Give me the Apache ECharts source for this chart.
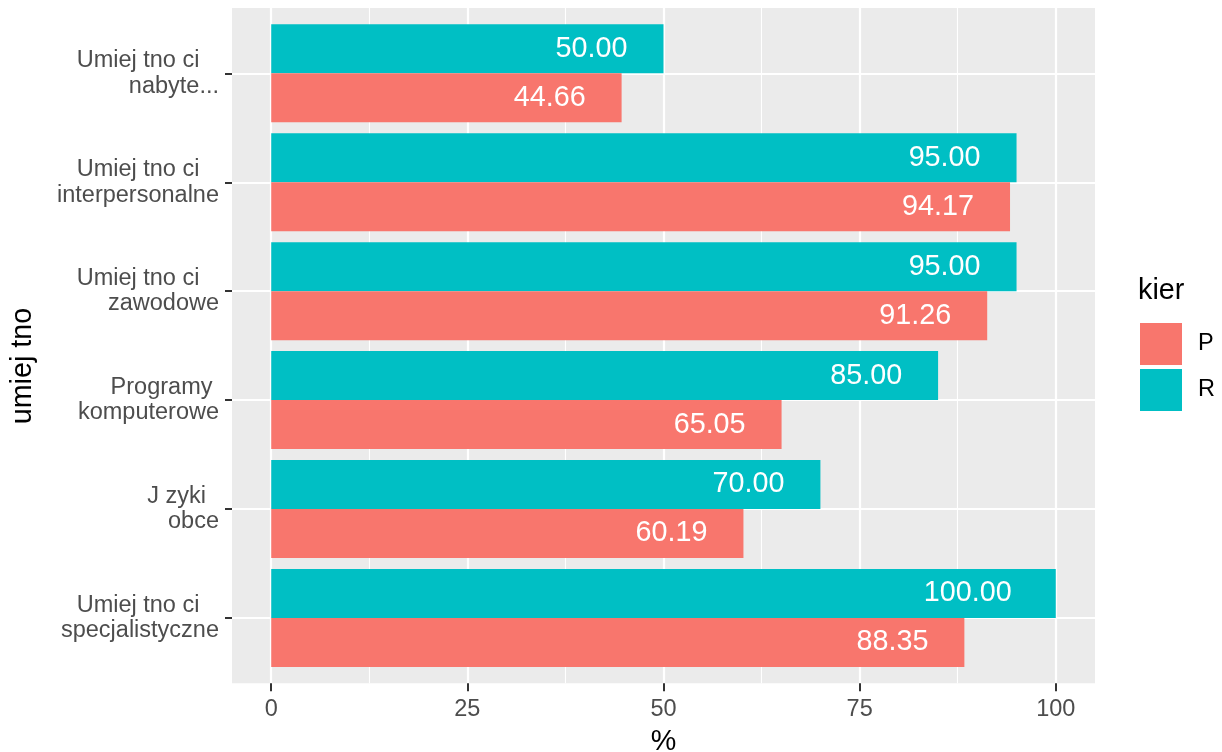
<!DOCTYPE html>
<html>
<head>
<meta charset="utf-8">
<script src="https://cdn.jsdelivr.net/npm/echarts@6/dist/echarts.min.js"></script>
<style>
  html, body { margin: 0; padding: 0; background: #fff; }
  #main { width: 1222px; height: 752px; }
</style>
</head>
<body>
<div id="main"></div>
<script>
// categories listed bottom -> top (echarts puts the first one at the bottom)
var categories = [
    'Umiej tno ci   \nspecjalistyczne',
    'J zyki  \nobce',
    'Programy \nkomputerowe',
    'Umiej tno ci   \nzawodowe',
    'Umiej tno ci   \ninterpersonalne',
    'Umiej tno ci   \nnabyte...'
];
var valuesP = [88.35, 60.19, 65.05, 91.26, 94.17, 44.66];
var valuesR = [100.00, 70.00, 85.00, 95.00, 95.00, 50.00];
var xTicks = [0, 25, 50, 75, 100];
var xMinor = [12.5, 37.5, 62.5, 87.5];
var seriesNames = ['P', 'R'];

var FONT = '"Liberation Sans", Arial, Helvetica, sans-serif';
var colP = '#F8766D', colR = '#00BFC4';
var labelSize = 28.75;

// ggplot hjust = 1.5: text centre sits one text width left of bar end
var ctx = document.createElement('canvas').getContext('2d');
ctx.font = labelSize + 'px ' + FONT;
var makeData = function(vals){
    return vals.map(function(v){
        var t = v.toFixed(2);
        return {value: v, label: {distance: ctx.measureText(t).width / 2}};
    });
};
var yIdx = categories.map(function(c, i){ return i; });

var barLabel = {
    show: true, position: 'insideRight', color: '#fff', fontSize: labelSize,
    fontFamily: FONT,
    formatter: function(p){ return p.value.toFixed(2); }
};

var myChart = echarts.init(document.getElementById('main'));
option = {
    animation: false,
    textStyle: {fontFamily: FONT},
    grid: [
        {left: 232, top: 8, width: 863, height: 675.3, show: true,
         backgroundColor: '#EBEBEB', borderWidth: 0,
         outerBoundsMode: 'none', containLabel: false},
        {left: 232, top: 18.9, width: 863, height: 653.5,
         outerBoundsMode: 'none', containLabel: false}
    ],
    legend: {
        data: seriesNames,
        orient: 'vertical',
        left: 1140, top: 323, padding: 0,
        itemWidth: 42, itemHeight: 42, itemGap: 4,
        icon: 'rect',
        textStyle: {fontSize: 23.5, color: '#000', fontFamily: FONT, padding: [0, 0, 0, 11]}
    },
    graphic: [
        {type: 'text', left: 1138, top: 277,
         style: {text: 'kier', fill: '#000', font: '28.75px ' + FONT}},
        {type: 'text', x: 23, y: 366, rotation: Math.PI / 2,
         style: {text: 'umiej tno', fill: '#000', font: '28.75px ' + FONT,
                 align: 'center', verticalAlign: 'middle'}}
    ],
    xAxis: [
        {
            gridIndex: 0, type: 'value', min: -5, max: 105, position: 'bottom',
            name: '%', nameLocation: 'middle', nameGap: 44,
            nameTextStyle: {fontSize: 28.75, color: '#000', fontFamily: FONT},
            axisLine: {show: true, onZero: false, lineStyle: {color: 'rgba(0,0,0,0)'}},
            axisTick: {show: true, inside: false, length: 8, customValues: xTicks,
                       lineStyle: {color: '#333333', width: 2}},
            axisLabel: {customValues: xTicks, fontSize: 23.5, color: '#4D4D4D', margin: 14},
            splitLine: {show: true, lineStyle: {color: '#FFFFFF', width: 2.2}}
        },
        {
            gridIndex: 0, type: 'value', min: -5, max: 105,
            axisLine: {show: false, onZero: false},
            axisTick: {show: false, customValues: xMinor},
            axisLabel: {show: false},
            splitLine: {show: true, lineStyle: {color: '#FFFFFF', width: 1.1}}
        },
        {
            gridIndex: 1, type: 'value', min: -5, max: 105,
            show: false
        }
    ],
    yAxis: [
        {
            gridIndex: 0, type: 'value', min: -0.6, max: 5.6,
            axisLine: {show: false, onZero: false},
            axisTick: {show: false, customValues: yIdx},
            axisLabel: {show: false},
            splitLine: {show: true, lineStyle: {color: '#FFFFFF', width: 2.2}}
        },
        {
            gridIndex: 1, type: 'category', data: categories,
            axisLine: {show: false, onZero: false},
            axisTick: {show: true, alignWithLabel: true, length: 7,
                       lineStyle: {color: '#333333', width: 2}},
            axisLabel: {fontSize: 23.5, color: '#4D4D4D', lineHeight: 25.5, margin: 13, align: 'right'},
            splitLine: {show: false}
        }
    ],
    // R first so it sits on top within each category, like the reference
    series: [
        {
            name: 'R', type: 'bar', xAxisIndex: 2, yAxisIndex: 1,
            data: makeData(valuesR),
            itemStyle: {color: colR},
            barGap: '0%', barCategoryGap: '10%',
            label: barLabel
        },
        {
            name: 'P', type: 'bar', xAxisIndex: 2, yAxisIndex: 1,
            data: makeData(valuesP),
            itemStyle: {color: colP},
            barGap: '0%', barCategoryGap: '10%',
            label: barLabel
        }
    ]
};

myChart.setOption(option);
</script>
</body>
</html>
